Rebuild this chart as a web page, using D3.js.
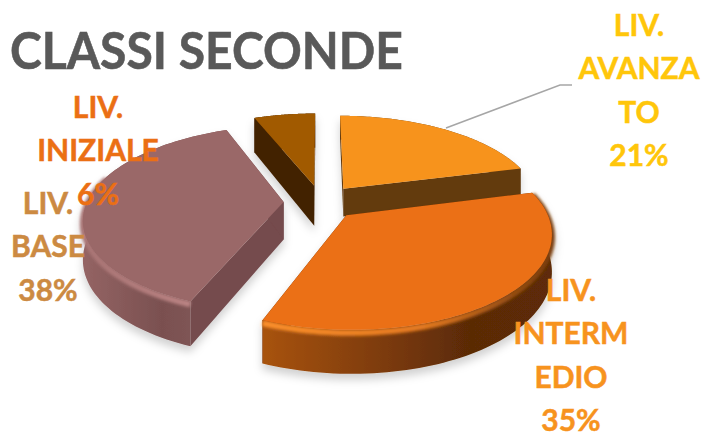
<!DOCTYPE html>
<html><head><meta charset="utf-8">
<script src="https://cdn.jsdelivr.net/npm/d3@7"></script>
<style>html,body{margin:0;padding:0;background:#fff;overflow:hidden}svg{display:block}text{font-family:Lato,"Open Sans",sans-serif;font-weight:700}</style>
</head><body><div id="c"></div>
<script>
// data
const titleText = "CLASSI SECONDE";
const categories = ["LIV. AVANZATO", "LIV. INTERMEDIO", "LIV. BASE", "LIV. INIZIALE"];
const values = [21, 35, 38, 6];
const labelLines = [["LIV.", "AVANZA", "TO", "21%"], ["LIV.", "INTERM", "EDIO", "35%"], ["LIV.", "BASE", "38%"], ["LIV.", "INIZIALE", "6%"]];
// style
const topColors = ["#F7931E", "#EB6F14", "#9A6767", "#A15A03"];
const sideColors = ["#633A0B", "#5E2C07", "#744B4D", "#432200"];
const labelColors = ["#FFC60A", "#F7931E", "#CC8A42", "#EB6F14"];
const wallStops = [
  [["0", "#633A0B"], ["1", "#633A0B"]],
  [["0", "#A8530F"], ["0.45", "#79390A"], ["0.72", "#5A2A06"], ["1", "#5E2C07"]],
  [["0", "#946464"], ["0.55", "#7A5050"], ["1", "#855A5A"]],
  [["0", "#432200"], ["1", "#432200"]]];
const glowStops = [
  [["0", "#7a4a10"], ["1", "#7a4a10"]],
  [["0", "#FB8F2A"], ["0.55", "#E57A20"], ["0.85", "#9A5012"], ["1", "#7A3D0C"]],
  [["0", "#A87474"], ["0.7", "#B98282"], ["1", "#D09A9A"]],
  [["0", "#5a3000"], ["1", "#5a3000"]]];
const sliceHeights = [165, 205, 218, 240];
const labelAnchors = [[639, 36], [571, 301], [48, 214], [98, 118]];
const leader = [[446, 128], [560, 85], [572, 85]];

const W = 702, H = 437, cx = 321, cy = 202, f = 1140, g = 521, d = 5.8, explode = 0.19;

const svg = d3.select("#c").append("svg").attr("width", W).attr("height", H);
const defs = svg.append("defs");
const shadow = defs.append("filter").attr("id", "shadow").attr("x", "-20%").attr("y", "-20%").attr("width", "140%").attr("height", "140%");
shadow.append("feDropShadow").attr("dx", 0).attr("dy", 6).attr("stdDeviation", 4).attr("flood-color", "#000").attr("flood-opacity", 0.18);
defs.append("filter").attr("id", "soft").append("feGaussianBlur").attr("stdDeviation", 1.5);

const pie = d3.pie().sort(null).value(v => v);
const arcs = pie(values);
const line = d3.line();
const project = (u, v, h) => {
  const D = d + v;
  return [cx + f * u / D, cy - g * v / D + h / D];
};

const slices = arcs.map((a, i) => {
  const mid = (a.startAngle + a.endAngle) / 2;
  const ox = explode * Math.sin(mid), oy = explode * Math.cos(mid);
  return {i, a, ox, oy, k: sliceHeights[i]};
});

function gradient(id, stops, x0, x1) {
  const lg = defs.append("linearGradient").attr("id", id).attr("gradientUnits", "userSpaceOnUse")
    .attr("x1", x0).attr("x2", x1).attr("y1", 0).attr("y2", 0);
  stops.forEach(s => lg.append("stop").attr("offset", s[0]).attr("stop-color", s[1]));
}

slices.slice().sort((p, q) => d3.descending(p.oy, q.oy)).forEach(s => {
  const {i, a, ox, oy, k} = s;
  const angle = d3.scaleLinear().domain([0, 80]).range([a.startAngle, a.endAngle]);
  const rim = d3.range(0, 81).map(j => [ox + Math.sin(angle(j)), oy + Math.cos(angle(j))]);
  const at = (pts, h) => pts.map(p => project(p[0], p[1], h));
  const apex = [[ox, oy]];
  const topPts = at(apex, 0).concat(at(rim, 0));
  const g0 = svg.append("g").attr("filter", "url(#shadow)");
  const xr = d3.extent(at(rim, 0), p => p[0]);
  gradient("wall" + i, wallStops[i], xr[0], xr[1]);
  gradient("glow" + i, glowStops[i], xr[0], xr[1]);
  [rim[0], rim[80]].forEach(e => {
    const pts = at([apex[0], e], 0).concat(at([e, apex[0]], k));
    g0.append("path").attr("d", line(pts) + "Z").attr("fill", sideColors[i]);
  });
  const wall = at(rim, 0).concat(at(rim.slice().reverse(), k));
  g0.append("path").attr("d", line(wall) + "Z").attr("fill", `url(#wall${i})`);
  const front = rim.filter(p => p[1] - oy < 0.3);
  if (front.length && (i === 1 || i === 2)) {
    g0.append("path").attr("d", line(at(front, 14))).attr("fill", "none")
      .attr("stroke", `url(#glow${i})`).attr("stroke-width", 6).attr("filter", "url(#soft)");
  }
  g0.append("path").attr("d", line(topPts) + "Z").attr("fill", topColors[i]);
});

svg.append("path").attr("d", line(leader)).attr("fill", "none").attr("stroke", "#A6A6A6").attr("stroke-width", 1.5);

svg.append("text").attr("x", 10).attr("y", 69).attr("font-size", 52).attr("fill", "#595959")
  .attr("stroke", "#595959").attr("stroke-width", 0.6)
  .attr("textLength", 393).attr("lengthAdjust", "spacingAndGlyphs").text(titleText);

labelLines.forEach((lines, i) => {
  const t = svg.append("text").attr("text-anchor", "middle").attr("font-size", 30).attr("fill", labelColors[i])
    .attr("stroke", labelColors[i]).attr("stroke-width", 0.5);
  lines.forEach((l, j) => {
    t.append("tspan").attr("x", labelAnchors[i][0]).attr("y", labelAnchors[i][1] + j * 43.3).text(l);
  });
  t.append("title").text(categories[i]);
});
</script></body></html>
